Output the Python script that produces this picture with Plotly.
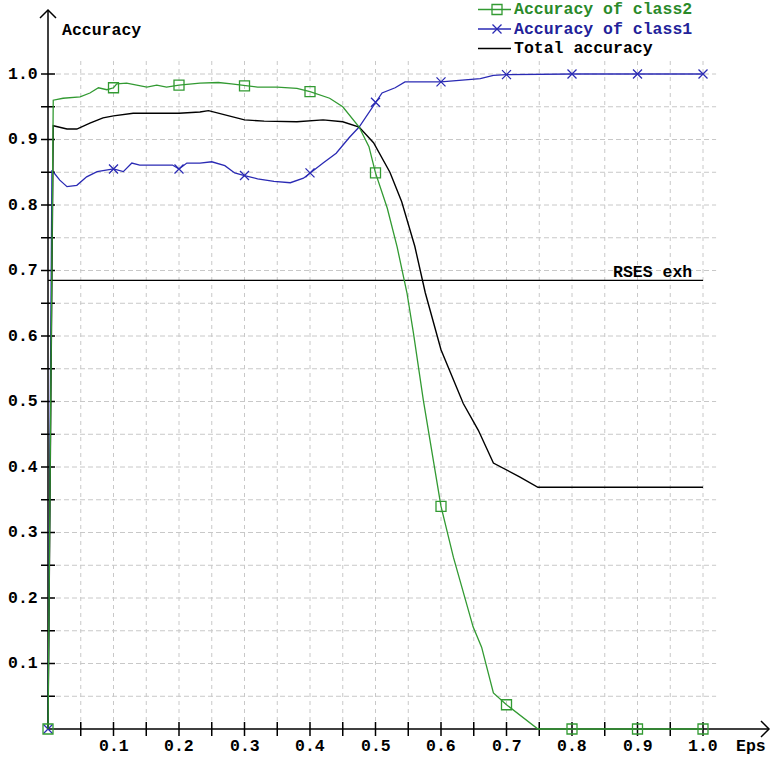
import plotly.graph_objects as go

# ---- data -------------------------------------------------------------
eps_class2 = [0, 0.008, 0.023, 0.049, 0.064, 0.077, 0.09, 0.1, 0.105, 0.12, 0.151,
              0.166, 0.181, 0.2, 0.232, 0.26, 0.28, 0.3, 0.32, 0.35, 0.38, 0.4,
              0.43, 0.45, 0.475, 0.49, 0.5, 0.518, 0.533, 0.548, 0.558, 0.573,
              0.585, 0.6, 0.619, 0.637, 0.649, 0.662, 0.68, 0.7, 0.748, 0.8, 0.9, 1.0]
acc_class2 = [0, 0.960, 0.963, 0.965, 0.971, 0.979, 0.976, 0.979, 0.985, 0.986, 0.980,
              0.983, 0.980, 0.983, 0.986, 0.987, 0.985, 0.982, 0.980, 0.980, 0.978, 0.973,
              0.963, 0.950, 0.919, 0.889, 0.849, 0.795, 0.736, 0.666, 0.604, 0.502,
              0.433, 0.340, 0.262, 0.197, 0.156, 0.125, 0.055, 0.037, 0, 0, 0, 0]

eps_class1 = [0, 0.006, 0.018, 0.029, 0.044, 0.059, 0.075, 0.09, 0.1, 0.115, 0.128,
              0.14, 0.19, 0.2, 0.212, 0.232, 0.25, 0.27, 0.285, 0.3, 0.32, 0.345,
              0.37, 0.39, 0.4, 0.42, 0.44, 0.46, 0.475, 0.49, 0.5, 0.51, 0.53,
              0.545, 0.6, 0.66, 0.68, 0.7, 0.8, 0.9, 1.0]
acc_class1 = [0, 0.853, 0.838, 0.828, 0.830, 0.843, 0.851, 0.853, 0.855, 0.851, 0.864,
              0.861, 0.861, 0.855, 0.864, 0.864, 0.866, 0.860, 0.849, 0.845, 0.840, 0.836,
              0.834, 0.841, 0.849, 0.864, 0.879, 0.903, 0.919, 0.942, 0.957, 0.971, 0.979,
              0.988, 0.988, 0.993, 0.998, 0.999, 1.0, 1.0, 1.0]

eps_total = [0, 0.008, 0.029, 0.044, 0.064, 0.084, 0.1, 0.12, 0.13, 0.2, 0.232,
             0.245, 0.26, 0.28, 0.3, 0.33, 0.355, 0.38, 0.42, 0.45, 0.475, 0.497,
             0.522, 0.54, 0.56, 0.576, 0.6, 0.619, 0.634, 0.657, 0.68, 0.72, 0.748, 1.0]
acc_total = [0, 0.921, 0.916, 0.916, 0.925, 0.933, 0.936, 0.939, 0.940, 0.940, 0.942,
             0.944, 0.940, 0.935, 0.930, 0.928, 0.927, 0.927, 0.930, 0.927, 0.919, 0.895,
             0.850, 0.805, 0.737, 0.666, 0.579, 0.533, 0.497, 0.456, 0.406, 0.385, 0.369, 0.369]

rses_exh = 0.685
rses_span = [0.0, 1.0]

marker_eps = [0, 0.1, 0.2, 0.3, 0.4, 0.5, 0.6, 0.7, 0.8, 0.9, 1.0]
tick_labels = ["0.1", "0.2", "0.3", "0.4", "0.5", "0.6", "0.7", "0.8", "0.9", "1.0"]
tick_label_values = [0.1, 0.2, 0.3, 0.4, 0.5, 0.6, 0.7, 0.8, 0.9, 1.0]

# ---- styling / geometry ----------------------------------------------
W, H = 771, 757
UNIT = 655.0          # pixels per 1.0 on both axes
ORIGIN_X, ORIGIN_Y = 48, 729

GREEN = "#329a32"
GREEN_TXT = "#2a8a2a"
BLUE = "#2a2ab4"
BLUE_TXT = "#22229a"
BLACK = "#000000"
GRID = "#c8c8c8"
FONT = dict(family="Liberation Mono, DejaVu Sans Mono, monospace", size=16.5, weight="bold")


def fx(p):
    return (p - ORIGIN_X) / UNIT


def fy(p):
    return (ORIGIN_Y - p) / UNIT


x_range = [fx(0), fx(W)]
y_range = [fy(H), fy(0)]

minor_ticks = [round(0.05 * k, 2) for k in range(1, 21)]
grid_end = 1.02


def pick(xs, ys, keys):
    out_x, out_y = [], []
    for k in keys:
        for a, b in zip(xs, ys):
            if abs(a - k) < 1e-9:
                out_x.append(a)
                out_y.append(b)
                break
    return out_x, out_y


def open_marker(symbol, size, color):
    return dict(symbol=symbol, size=size, color=color, line=dict(color=color, width=1.3))


fig = go.Figure()

# class 1 (blue)
fig.add_trace(go.Scatter(x=eps_class1, y=acc_class1, mode="lines",
                         line=dict(color=BLUE, width=1.3), hoverinfo="skip"))
mx, my = pick(eps_class1, acc_class1, marker_eps)
fig.add_trace(go.Scatter(x=mx, y=my, mode="markers",
                         marker=open_marker("x-thin-open", 9, BLUE), hoverinfo="skip"))

# total (black)
fig.add_trace(go.Scatter(x=eps_total, y=acc_total, mode="lines",
                         line=dict(color=BLACK, width=1.4), hoverinfo="skip"))

# RSES exh reference level
fig.add_trace(go.Scatter(x=rses_span, y=[rses_exh, rses_exh], mode="lines",
                         line=dict(color=BLACK, width=1.3), hoverinfo="skip"))

# class 2 (green)
fig.add_trace(go.Scatter(x=eps_class2, y=acc_class2, mode="lines",
                         line=dict(color=GREEN, width=1.3), hoverinfo="skip"))
mx, my = pick(eps_class2, acc_class2, marker_eps)
fig.add_trace(go.Scatter(x=mx, y=my, mode="markers",
                         marker=open_marker("square-open", 10, GREEN), hoverinfo="skip"))

shapes = []
# dashed grid
for t in minor_ticks:
    shapes.append(dict(type="line", x0=t, x1=t, y0=0, y1=grid_end, layer="below",
                       line=dict(color=GRID, width=1, dash="4px,4px")))
    shapes.append(dict(type="line", x0=0, x1=grid_end, y0=t, y1=t, layer="below",
                       line=dict(color=GRID, width=1, dash="5px,3px")))

# axes with open arrow heads
ax_line = dict(color=BLACK, width=1.5)
y_top = fy(10)
x_end = fx(769)
shapes.append(dict(type="line", x0=0, x1=0, y0=0, y1=y_top, layer="below", line=ax_line))
shapes.append(dict(type="line", x0=0, x1=x_end, y0=0, y1=0, layer="below", line=ax_line))
shapes.append(dict(type="path", layer="below", line=ax_line,
                   path=f"M {fx(ORIGIN_X - 8)},{fy(18)} L 0,{y_top} L {fx(ORIGIN_X + 8)},{fy(18)}"))
shapes.append(dict(type="path", layer="below", line=ax_line,
                   path=f"M {fx(761)},{fy(ORIGIN_Y - 8)} L {x_end},0 L {fx(761)},{fy(ORIGIN_Y + 8)}"))

# tick marks crossing the axes
half = 7 / UNIT
for t in minor_ticks:
    shapes.append(dict(type="line", x0=-half, x1=half, y0=t, y1=t, layer="below",
                       line=dict(color=BLACK, width=1.5)))
    shapes.append(dict(type="line", x0=t, x1=t, y0=-half, y1=half, layer="below",
                       line=dict(color=BLACK, width=1.5)))

# legend sample lines
legend_rows = [(9.5, GREEN, GREEN_TXT, "Accuracy of class2", "square-open"),
               (29, BLUE, BLUE_TXT, "Accuracy of class1", "x-thin-open"),
               (48.5, BLACK, BLACK, "Total accuracy", None)]
for row_y, col, _, _, _ in legend_rows:
    shapes.append(dict(type="line", x0=fx(478), x1=fx(511), y0=fy(row_y), y1=fy(row_y),
                       layer="below", line=dict(color=col, width=1.4)))

for row_y, col, _, _, sym in legend_rows:
    if sym:
        fig.add_trace(go.Scatter(x=[fx(497)], y=[fy(row_y)], mode="markers",
                                 marker=open_marker(sym, 9 if sym.startswith("x") else 10, col),
                                 hoverinfo="skip"))

annotations = []
for row_y, _, tcol, label, _ in legend_rows:
    annotations.append(dict(x=fx(512), y=fy(row_y), text=label, showarrow=False,
                            xanchor="left", yanchor="middle",
                            font=dict(FONT, color=tcol)))

for v, lab in zip(tick_label_values, tick_labels):
    annotations.append(dict(x=0, y=v, text=lab, showarrow=False, xanchor="right",
                            yanchor="middle", xshift=-8, font=dict(FONT, color=BLACK)))
    annotations.append(dict(x=v, y=0, text=lab, showarrow=False, xanchor="center",
                            yanchor="middle", yshift=-17, font=dict(FONT, color=BLACK)))

annotations.append(dict(x=fx(60), y=fy(30), text="Accuracy", showarrow=False,
                        xanchor="left", yanchor="middle", font=dict(FONT, color=BLACK)))
annotations.append(dict(x=fx(768), y=fy(746), text="Eps", showarrow=False,
                        xanchor="right", yanchor="middle", font=dict(FONT, color=BLACK)))
annotations.append(dict(x=1.0, y=rses_exh, text="RSES exh", showarrow=False,
                        xanchor="right", yanchor="middle", xshift=-9, yshift=8,
                        font=dict(FONT, color=BLACK)))

fig.update_layout(
    width=W, height=H,
    margin=dict(l=0, r=0, t=0, b=0),
    paper_bgcolor="white", plot_bgcolor="white",
    showlegend=False,
    xaxis=dict(range=x_range, visible=False, fixedrange=True),
    yaxis=dict(range=y_range, visible=False, fixedrange=True),
    shapes=shapes,
    annotations=annotations,
    hovermode=False,
)

fig.write_html("out.html", config={"displayModeBar": False})
